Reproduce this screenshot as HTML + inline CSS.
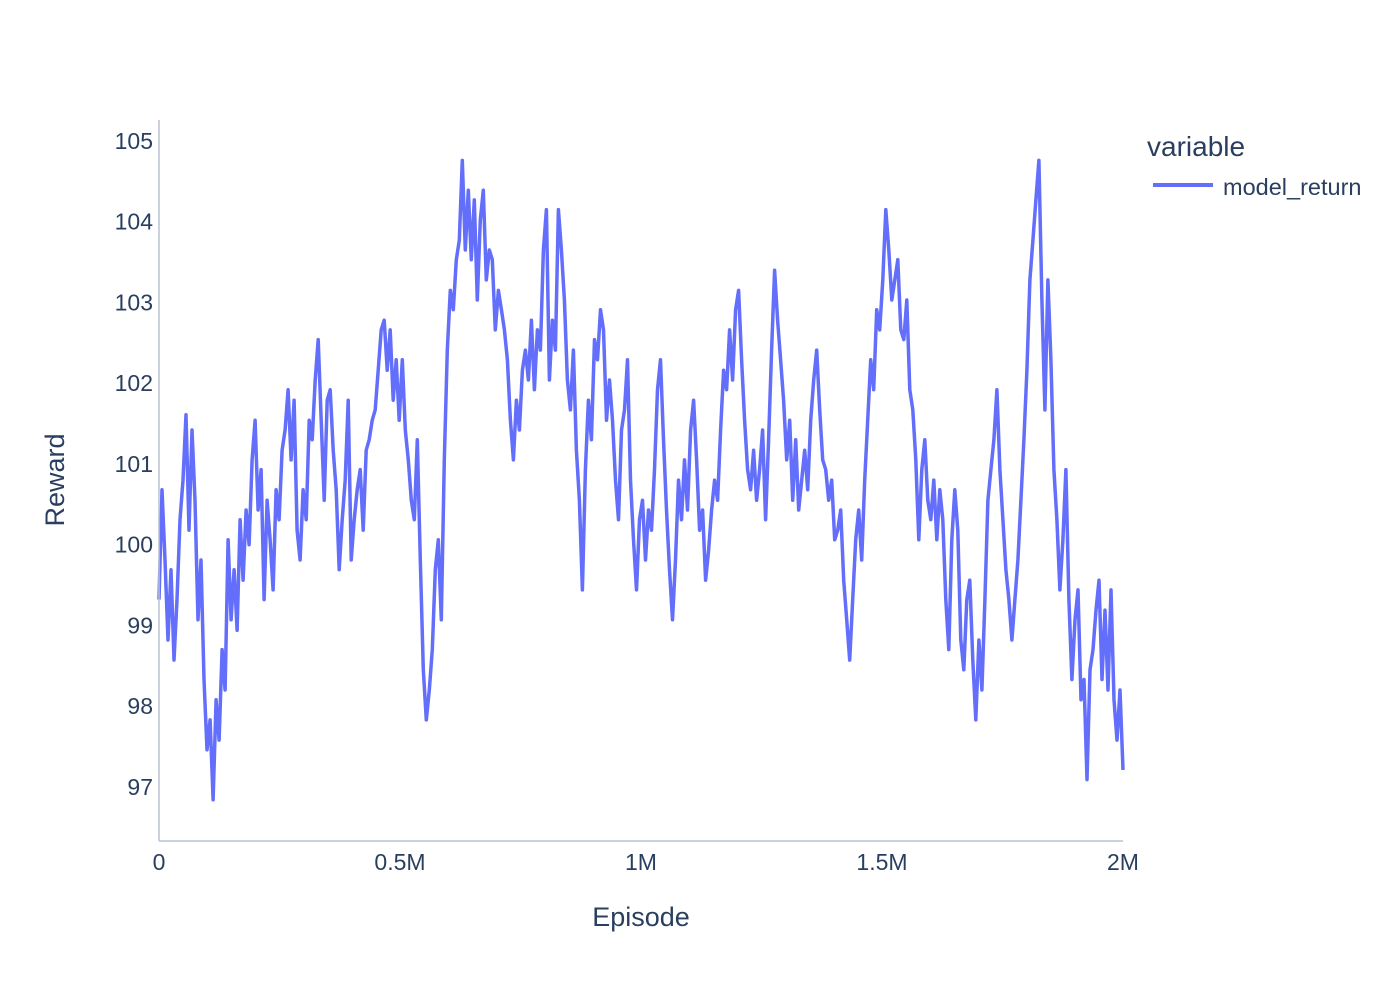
<!DOCTYPE html>
<html>
<head>
<meta charset="utf-8">
<style>
html,body{margin:0;padding:0;background:#fff;}
svg{display:block;font-family:"Liberation Sans",Arial,sans-serif;}
</style>
</head>
<body>
<svg id="chart" width="1400" height="1000" viewBox="0 0 1400 1000">
  <rect width="1400" height="1000" fill="#fff"/>
  <g id="plot"></g>
  <line x1="159" y1="120" x2="159" y2="841" stroke="#b9c4d4" stroke-width="1.5"/>
  <line x1="159" y1="841" x2="1123" y2="841" stroke="#b9c4d4" stroke-width="1.5"/>
  <g id="yticks"></g>
  <g id="xticks"></g>
  <text x="641" y="926" text-anchor="middle" font-size="27" fill="#2a3f5f">Episode</text>
  <text x="0" y="0" transform="translate(64,480) rotate(-90)" text-anchor="middle" font-size="27" fill="#2a3f5f">Reward</text>
  <g>
    <text x="1147" y="156" font-size="28" fill="#2a3f5f">variable</text>
    <g>
      <line x1="1153" y1="185" x2="1213" y2="185" stroke="#636efa" stroke-width="4"/>
      <text x="1223" y="195" font-size="23.5" fill="#2a3f5f">model_return</text>
    </g>
  </g>
</svg>
<script>
const xTicks = [0, 500000, 1000000, 1500000, 2000000];
const xTickLabels = ["0", "0.5M", "1M", "1.5M", "2M"];
const yTicks = [97, 98, 99, 100, 101, 102, 103, 104, 105];
const yTickLabels = ["97", "98", "99", "100", "101", "102", "103", "104", "105"];
const episodeMax = 2000000;
const rewards = [
99.32,100.68,99.81,98.82,99.69,98.57,99.32,100.31,100.80,101.61,100.18,101.42,100.55,99.07,99.81,98.33,97.46,97.83,96.84,98.08,
97.58,98.70,98.20,100.06,99.07,99.69,98.94,100.31,99.56,100.43,100.00,101.05,101.54,100.43,100.93,99.32,100.55,100.06,99.44,100.68,
100.31,101.17,101.42,101.92,101.05,101.79,100.18,99.81,100.68,100.31,101.54,101.30,102.04,102.54,101.54,100.55,101.79,101.92,101.17,100.68,
99.69,100.31,100.80,101.79,99.81,100.31,100.68,100.93,100.18,101.17,101.30,101.54,101.67,102.16,102.66,102.78,102.16,102.66,101.79,102.29,
101.54,102.29,101.42,101.05,100.55,100.31,101.30,99.81,98.45,97.83,98.20,98.70,99.69,100.06,99.07,101.05,102.41,103.15,102.91,103.53,
103.77,104.76,103.65,104.39,103.53,104.27,103.03,104.02,104.39,103.28,103.65,103.53,102.66,103.15,102.91,102.66,102.29,101.54,101.05,101.79,
101.42,102.16,102.41,102.04,102.78,101.92,102.66,102.41,103.65,104.15,102.04,102.78,102.41,104.15,103.65,103.03,102.04,101.67,102.41,101.17,
100.55,99.44,100.93,101.79,101.30,102.54,102.29,102.91,102.66,101.54,102.04,101.54,100.80,100.31,101.42,101.67,102.29,100.80,100.06,99.44,
100.31,100.55,99.81,100.43,100.18,100.93,101.92,102.29,101.30,100.43,99.69,99.07,99.81,100.80,100.31,101.05,100.43,101.42,101.79,101.05,
100.18,100.43,99.56,99.93,100.43,100.80,100.55,101.42,102.16,101.92,102.66,102.04,102.91,103.15,102.29,101.54,100.93,100.68,101.17,100.55,
100.93,101.42,100.31,101.30,102.41,103.40,102.78,102.29,101.79,101.05,101.54,100.55,101.30,100.43,100.80,101.17,100.68,101.54,102.04,102.41,
101.67,101.05,100.93,100.55,100.80,100.06,100.18,100.43,99.56,99.07,98.57,99.32,100.06,100.43,99.81,100.80,101.54,102.29,101.92,102.91,
102.66,103.28,104.15,103.65,103.03,103.28,103.53,102.66,102.54,103.03,101.92,101.67,101.05,100.06,100.93,101.30,100.55,100.31,100.80,100.06,
100.68,100.31,99.32,98.70,100.06,100.68,100.18,98.82,98.45,99.32,99.56,98.57,97.83,98.82,98.20,99.32,100.55,100.93,101.30,101.92,
100.93,100.31,99.69,99.32,98.82,99.32,99.81,100.55,101.30,102.16,103.28,103.77,104.27,104.76,103.03,101.67,103.28,102.29,100.93,100.31,
99.44,100.06,100.93,99.32,98.33,99.07,99.44,98.08,98.33,97.09,98.45,98.70,99.19,99.56,98.33,99.19,98.20,99.44,98.08,97.58,
98.20,97.21
];

const X0 = 159, X1 = 1123, Y0 = 841, Y1 = 120;
const yMin = 96.33, yMax = 105.26;
function xScale(v){ return X0 + (v / episodeMax) * (X1 - X0); }
function yScale(v){ return Y0 - (v - yMin) / (yMax - yMin) * (Y0 - Y1); }
const NS = "http://www.w3.org/2000/svg";

const yg = document.getElementById('yticks');
yTicks.forEach((t, i) => {
  const tx = document.createElementNS(NS, 'text');
  tx.setAttribute('x', 153);
  tx.setAttribute('y', yScale(t) + 8);
  tx.setAttribute('text-anchor', 'end');
  tx.setAttribute('font-size', '23');
  tx.setAttribute('fill', '#2a3f5f');
  tx.textContent = yTickLabels[i];
  
  
  yg.appendChild(tx);
});

const xg = document.getElementById('xticks');
xTicks.forEach((t, i) => {
  const tx = document.createElementNS(NS, 'text');
  tx.setAttribute('x', xScale(t));
  tx.setAttribute('y', 870);
  tx.setAttribute('text-anchor', 'middle');
  tx.setAttribute('font-size', '23');
  tx.setAttribute('fill', '#2a3f5f');
  tx.textContent = xTickLabels[i];
  
  
  xg.appendChild(tx);
});

const n = rewards.length;
let d = '';
rewards.forEach((r, i) => {
  const ep = i * episodeMax / (n - 1);
  d += (i ? 'L' : 'M') + xScale(ep).toFixed(1) + ',' + yScale(r).toFixed(1);
});
const path = document.createElementNS(NS, 'path');
path.setAttribute('d', d);
path.setAttribute('fill', 'none');
path.setAttribute('stroke', '#636efa');
path.setAttribute('stroke-width', '3.5');
path.setAttribute('stroke-linejoin', 'round');


document.getElementById('plot').appendChild(path);
</script>
</body>
</html>
